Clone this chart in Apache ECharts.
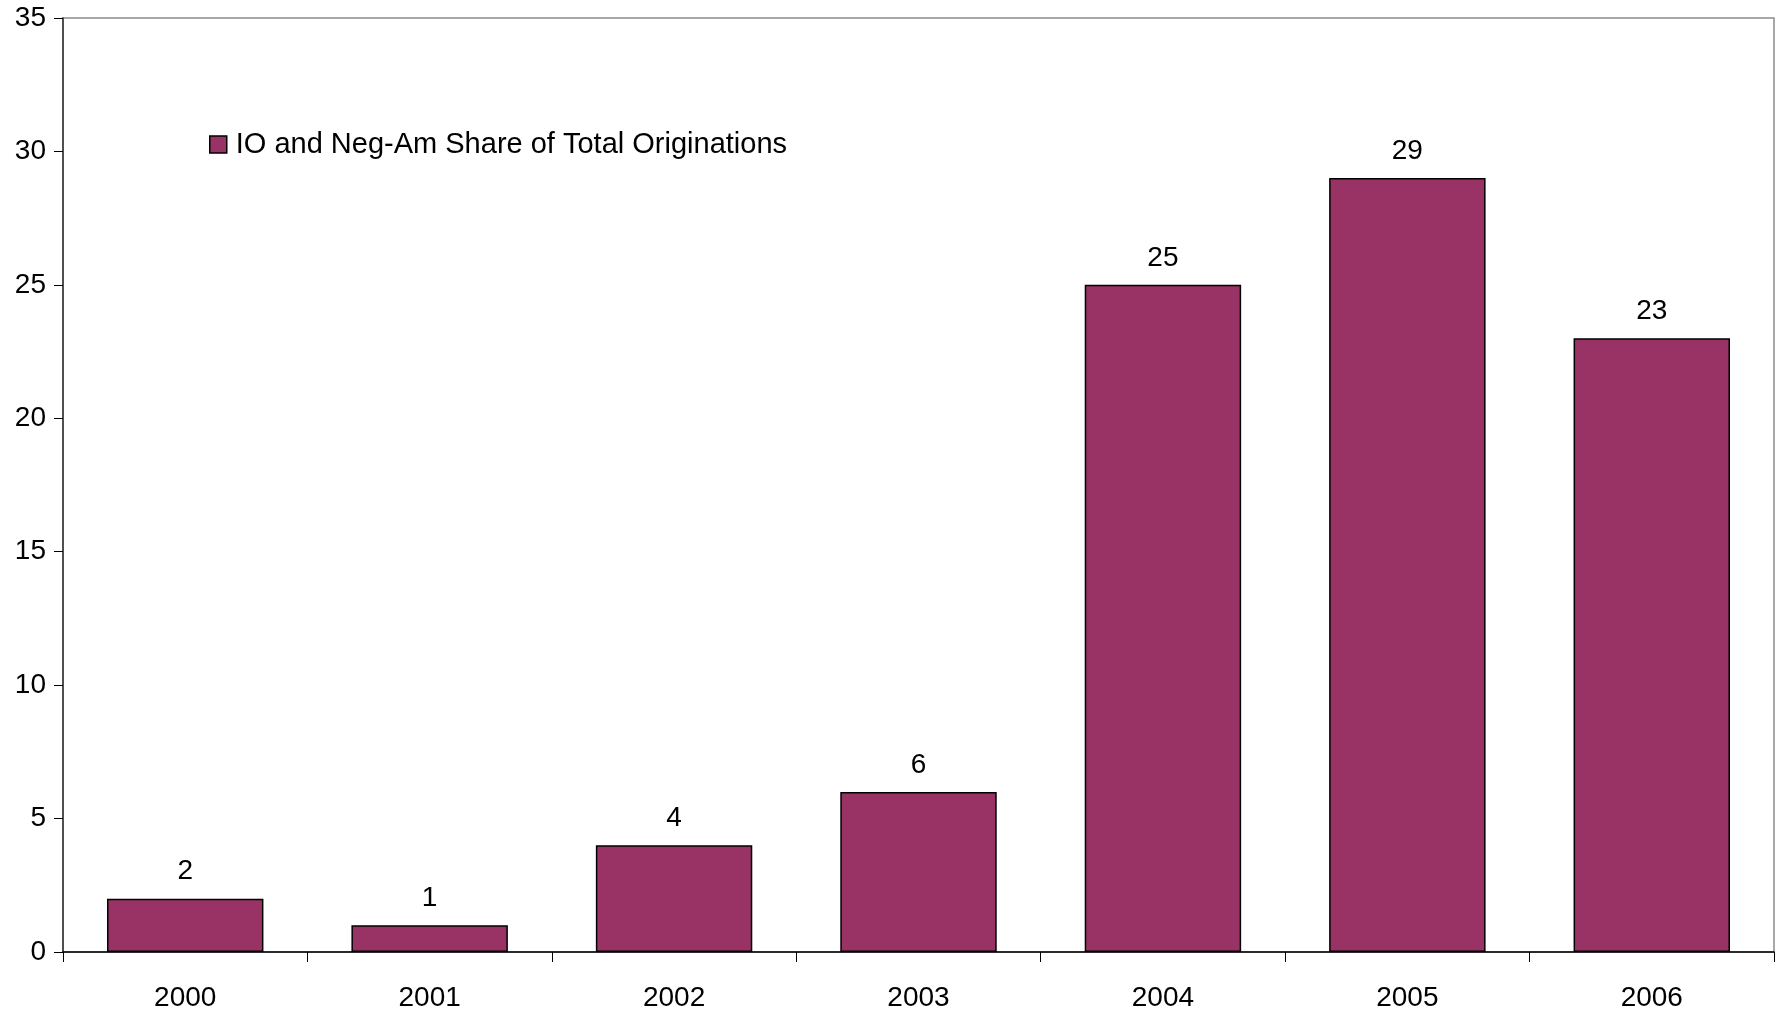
<!DOCTYPE html>
<html>
<head>
<meta charset="utf-8">
<script src="https://cdn.jsdelivr.net/npm/echarts@6/dist/echarts.min.js"></script>
<style>
html,body{margin:0;padding:0;background:#fff;}
#chart{width:1783px;height:1012px;}
</style>
</head>
<body>
<div id="chart"></div>
<script>
const categories = ['2000','2001','2002','2003','2004','2005','2006'];
const shareValues = [2, 1, 4, 6, 25, 29, 23];
const seriesName = 'IO and Neg-Am Share of Total Originations';
const yTicks = {min: 0, max: 35, interval: 5};

const chart = echarts.init(document.getElementById('chart'));
const font = '"Liberation Sans", Arial, sans-serif';
chart.setOption({
  animation: false,
  backgroundColor: '#ffffff',
  grid: {
    left: 63, right: 9, top: 18, bottom: 57,
    show: true, borderColor: '#8c8c8c', borderWidth: 1.5, backgroundColor: 'transparent'
  },
  legend: {
    show: true,
    left: 204, top: 125,
    itemWidth: 17, itemHeight: 17, itemGap: 10,
    icon: 'rect',
    textStyle: {fontFamily: font, fontSize: 29, color: '#000', padding: [0, 0, 0, 4]},
    data: [{name: seriesName, itemStyle: {borderColor: '#000', borderWidth: 1.5}}]
  },
  xAxis: {
    type: 'category',
    data: categories,
    boundaryGap: true,
    axisLine: {show: true, lineStyle: {color: '#000', width: 1.5}},
    axisTick: {show: true, inside: false, length: 10, alignWithLabel: false, lineStyle: {color: '#000', width: 1}},
    axisLabel: {fontFamily: font, fontSize: 28, color: '#000', margin: 32}
  },
  yAxis: {
    type: 'value',
    min: yTicks.min, max: yTicks.max, interval: yTicks.interval,
    splitLine: {show: false},
    axisLine: {show: true, lineStyle: {color: '#333', width: 1.5}},
    axisTick: {show: true, inside: false, length: 9, lineStyle: {color: '#000', width: 1}},
    axisLabel: {fontFamily: font, fontSize: 28, color: '#000', margin: 17}
  },
  series: [{
    name: seriesName,
    type: 'bar',
    data: shareValues,
    barCategoryGap: '36%',
    itemStyle: {color: '#993366', borderColor: '#000', borderWidth: 1.5},
    label: {show: true, position: 'top', distance: 13, fontFamily: font, fontSize: 28, color: '#000'}
  }]
});
</script>
</body>
</html>
